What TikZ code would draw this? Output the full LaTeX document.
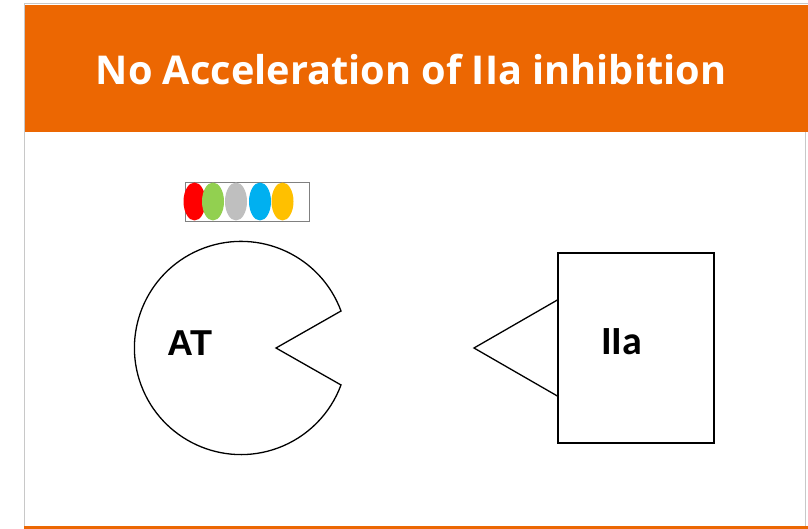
\documentclass[tikz,border=0pt]{standalone}
\usepackage{fontspec}
\setmainfont{Open Sans}
\newfontfamily\labelfont{Liberation Sans}
\newfontfamily\boxfont{Carlito}
\usetikzlibrary{positioning,shapes.geometric}

\definecolor{kopf}{RGB}{236,103,2}
\definecolor{rahmen}{RGB}{200,200,200}
\definecolor{gruen}{RGB}{146,208,80}
\definecolor{grau}{RGB}{191,191,191}
\definecolor{blau}{RGB}{0,176,240}
\definecolor{gelb}{RGB}{255,192,0}

\begin{document}
\begin{tikzpicture}[x=1pt,y=-1pt,
            titel/.style={text=white, font=\fontsize{39.7}{40}\selectfont\bfseries, anchor=base},
            protein/.style={draw=black, line width=1.3pt, fill=white},
            kern/.style={ellipse, fill=#1, minimum width=22, minimum height=38, inner sep=0pt}]
            \useasboundingbox (0,0) rectangle (808,529);
            \fill[white] (0,0) rectangle (808,529);
            % header and frame
            \fill[kopf] (24,5) rectangle (808,132);
            \draw[rahmen, line width=1pt] (24,527) -- (24,4) -- (808,4);
            \draw[rahmen, line width=1pt] (805,132) -- (805,527);
            \fill[kopf] (24,526) rectangle (808,529);
            \node[titel] (title) at (411,84.3) {No Acceleration of IIa inhibition};

            % pentasaccharide bar
            \node[draw=gray, line width=0.9pt, minimum width=124, minimum height=39, inner sep=0pt] (bar) at (247,201.5) {};
            \foreach \c/\x in {red/194.5, gruen/213, grau/236, blau/260, gelb/282.5}
                \node[kern=\c] at (\x,201.5) {};

            % antithrombin
            \coordinate (atc)      at (241,348);
            \coordinate (mouthtop) at (341,311);
            \coordinate (mouthin)  at (276,348);
            \draw[protein] (mouthtop) arc[start angle=339.7, end angle=20.3, radius=106.6] -- (mouthin) -- cycle;
            \node[anchor=base west, inner sep=0pt, font=\fontsize{36}{36}\labelfont\bfseries] (AT) at (167,355) {AT};

            % thrombin
            \node[protein, minimum width=156, minimum height=190, inner sep=0pt] (IIabox) at (636,348) {};
            \coordinate (tip) at (474,348);
            \draw[protein, fill=none] ([yshift=48pt]IIabox.west) -- (tip) -- ([yshift=-48pt]IIabox.west);
            \node[anchor=base west, inner sep=0pt, font=\fontsize{40}{40}\boxfont\bfseries] (IIa) at (601,354.3) {IIa};
        \end{tikzpicture}
\end{document}
